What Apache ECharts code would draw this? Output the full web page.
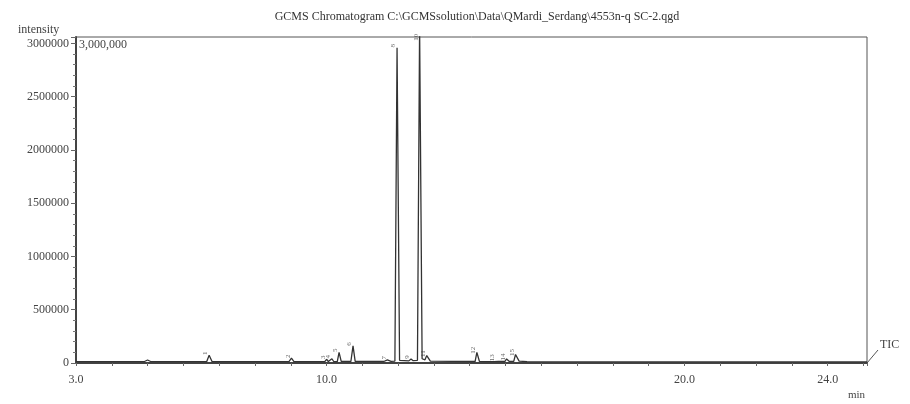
<!DOCTYPE html>
<html>
<head>
<meta charset="utf-8">
<script src="https://cdn.jsdelivr.net/npm/echarts@6/dist/echarts.min.js"></script>
<style>html,body{margin:0;padding:0;background:#fff}#c{width:910px;height:404px}</style>
</head>
<body>
<div id="c"></div>
<script>
// Retention time (min) and intensity
var times = [3.0, 4.9, 5.0, 5.1, 6.65, 6.72, 6.8, 8.95, 9.02, 9.09, 9.95, 10.0, 10.05, 10.1, 10.15, 10.2,
  10.3, 10.35, 10.41, 10.68, 10.74, 10.8, 11.6, 11.7, 11.8, 11.91, 11.97, 12.04, 12.3, 12.36, 12.42,
  12.54, 12.6, 12.67, 12.75, 12.8, 12.9, 14.15, 14.2, 14.27, 14.68, 14.73, 14.8, 14.98, 15.03, 15.1,
  15.23, 15.28, 15.38, 15.6, 25.1];
var intensity = [12000, 12000, 28000, 12000, 12000, 72000, 14000, 12000, 45000, 13000, 12000, 35000, 14000, 13000, 40000, 14000,
  13000, 100000, 15000, 14000, 160000, 16000, 14000, 30000, 16000, 18000, 2960000, 25000, 20000, 38000, 22000,
  25000, 3150000, 40000, 30000, 70000, 18000, 14000, 100000, 16000, 13000, 30000, 14000, 14000, 38000, 16000,
  15000, 80000, 18000, 12000, 10000];
// Peak number labels
var peakTimes = [6.72, 9.02, 10.0, 10.15, 10.35, 10.74, 11.7, 11.97, 12.36, 12.6, 12.8, 14.2, 14.73, 15.03, 15.28];
var peakLabelY = [72000, 45000, 35000, 40000, 100000, 160000, 30000, 2960000, 38000, 3040000, 70000, 100000, 30000, 38000, 80000];
var peakNames = ['1', '2', '3', '4', '5', '6', '7', '8', '9', '10', '11', '12', '13', '14', '15'];
var xLabelTicks = [3, 10, 20, 24];

var font = 'Liberation Serif';
var lineData = times.map(function (t, i) { return [t, intensity[i]]; });
var peakData = peakTimes.map(function (t, i) { return { value: [t, peakLabelY[i]], name: peakNames[i] }; });

var chart = echarts.init(document.getElementById('c'));
chart.setOption({
  animation: false,
  title: {
    text: 'GCMS Chromatogram C:\\GCMSsolution\\Data\\QMardi_Serdang\\4553n-q SC-2.qgd',
    left: 472, top: 6, textAlign: 'center',
    textStyle: { fontFamily: font, fontSize: 12, fontWeight: 'normal', color: '#333' }
  },
  grid: { left: 76, right: 43, top: 37, bottom: 41, show: true, borderColor: '#555', borderWidth: 1 },
  xAxis: {
    type: 'value', min: 3, max: 25.1, interval: 1,
    axisLine: { show: true, lineStyle: { color: '#444', width: 2 } },
    axisTick: { show: true, length: 3, lineStyle: { color: '#666' } },
    splitLine: { show: false },
    axisLabel: {
      fontFamily: font, fontSize: 12, color: '#444', margin: 11,
      formatter: function (v) { return xLabelTicks.indexOf(Math.round(v * 10) / 10) >= 0 ? v.toFixed(1) : ''; }
    }
  },
  yAxis: {
    type: 'value', min: 0, max: 3060000, interval: 500000,
    axisLine: { show: true, lineStyle: { color: '#444', width: 2 } },
    axisTick: { show: true, length: 5, lineStyle: { color: '#666' } },
    minorTick: { show: true, splitNumber: 5, length: 3, lineStyle: { color: '#777' } },
    splitLine: { show: false },
    axisLabel: {
      fontFamily: font, fontSize: 12, color: '#444', margin: 7,
      formatter: function (v) { return v % 500000 === 0 ? String(v) : ''; }
    }
  },
  series: [
    {
      type: 'line', data: lineData, symbol: 'none', clip: true,
      lineStyle: { color: '#333', width: 1.3 }
    },
    {
      type: 'scatter', data: peakData, symbolSize: 0, silent: true,
      label: {
        show: true, position: 'top', distance: 2, rotate: 90, formatter: '{b}',
        fontFamily: font, fontSize: 7, color: '#444'
      }
    }
  ],
  graphic: [
    { type: 'text', left: 18, top: 24, style: { text: 'intensity', font: '12px "Liberation Serif"', fill: '#444' } },
    { type: 'text', left: 79, top: 39, style: { text: '3,000,000', font: '12px "Liberation Serif"', fill: '#444' } },
    { type: 'line', shape: { x1: 867, y1: 363, x2: 878, y2: 350 }, style: { stroke: '#555', lineWidth: 1 } },
    { type: 'text', left: 880, top: 339, style: { text: 'TIC', font: '12px "Liberation Serif"', fill: '#444' } },
    { type: 'text', left: 848, top: 390, style: { text: 'min', font: '11px "Liberation Serif"', fill: '#444' } }
  ]
});
</script>
</body>
</html>
